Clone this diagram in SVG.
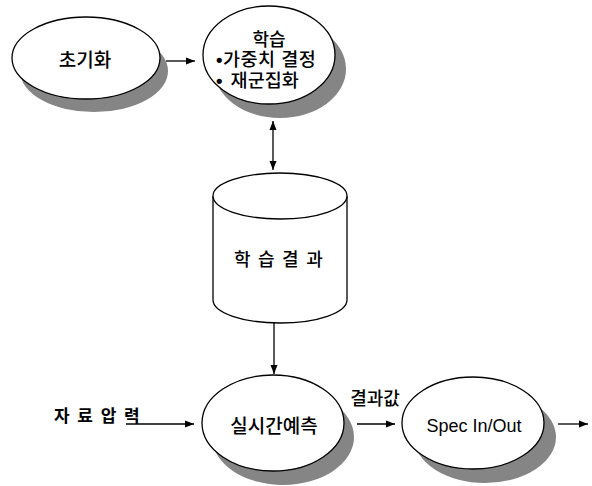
<svg xmlns="http://www.w3.org/2000/svg" width="592" height="486" viewBox="0 0 592 486">
<style>
.sh{fill:#858585;stroke:none}
.nd{fill:#fff;stroke:#000;stroke-width:1.3}
.cy{fill:#fff;stroke:#000;stroke-width:1.3}
.t{font-family:"Liberation Sans","Noto Sans CJK KR",sans-serif;fill:#000}
.k{font-weight:500}
.b{font-family:"Liberation Sans",sans-serif;font-weight:700}
.c{stroke:#000;stroke-width:1.3;fill:none}
</style>
<defs>
<marker id="ah" markerUnits="userSpaceOnUse" markerWidth="10" markerHeight="8" refX="9" refY="4" orient="auto-start-reverse">
<path d="M0,0.5 L9,4 L0,7.5 Z" fill="#000"/>
</marker>
</defs>
<rect width="592" height="486" fill="#fff"/>
<g id="init">
<ellipse class="sh" cx="94" cy="71" rx="74" ry="41"/>
<ellipse class="nd" cx="86" cy="58" rx="74" ry="41"/>
<text class="t k" x="85" y="67" font-size="19" text-anchor="middle">초기화</text>
</g>
<g id="learn">
<ellipse class="sh" cx="280" cy="69" rx="66" ry="49"/>
<ellipse class="nd" cx="269" cy="55" rx="66" ry="49"/>
<text class="t k" x="269" y="46" font-size="18" text-anchor="middle">학습</text>
<text class="t k" x="216" y="66" font-size="18.5" letter-spacing="0.5"><tspan class="b">•</tspan><tspan>가중치 결정</tspan></text>
<text class="t k" x="216" y="87" font-size="18.5"><tspan class="b">•</tspan><tspan dx="3"> 재군집화</tspan></text>
</g>
<g id="result-db">
<path class="cy" d="M213,196 L213,300 A67,23 0 0 0 347,300 L347,196 A67,23 0 0 0 213,196 Z"/>
<path class="cy" d="M213,196 A67,23 0 0 0 347,196"/>
<text class="t k" x="234" y="266" font-size="18" letter-spacing="7.5">학습결과</text>
</g>
<g id="predict">
<ellipse class="sh" cx="283" cy="437" rx="71" ry="48"/>
<ellipse class="nd" cx="273" cy="423" rx="71" ry="48"/>
<text class="t k" x="274" y="433" font-size="19" text-anchor="middle">실시간예측</text>
</g>
<g id="spec">
<ellipse class="sh" cx="485" cy="437" rx="71" ry="46"/>
<ellipse class="nd" cx="473" cy="423" rx="71" ry="46"/>
<text class="t" x="474" y="432" font-size="18" text-anchor="middle">Spec In/Out</text>
</g>
<g id="input-label">
<text class="t" x="54" y="422" font-size="17" font-weight="700" letter-spacing="1.5">자 료 압 력</text>
</g>
<g id="connectors">
<line class="c" x1="166" y1="61" x2="195" y2="61" marker-end="url(#ah)"/>
<line class="c" x1="273" y1="121" x2="273" y2="170" marker-start="url(#ah)" marker-end="url(#ah)"/>
<line class="c" x1="274" y1="323" x2="274" y2="374" marker-end="url(#ah)"/>
<line class="c" x1="126" y1="424" x2="194" y2="424" marker-end="url(#ah)"/>
<line class="c" x1="357" y1="424" x2="395" y2="424" marker-end="url(#ah)"/>
<text class="t k" x="375" y="405" font-size="18" text-anchor="middle">결과값</text>
<line class="c" x1="558" y1="424" x2="588" y2="424" marker-end="url(#ah)"/>
</g>
</svg>
